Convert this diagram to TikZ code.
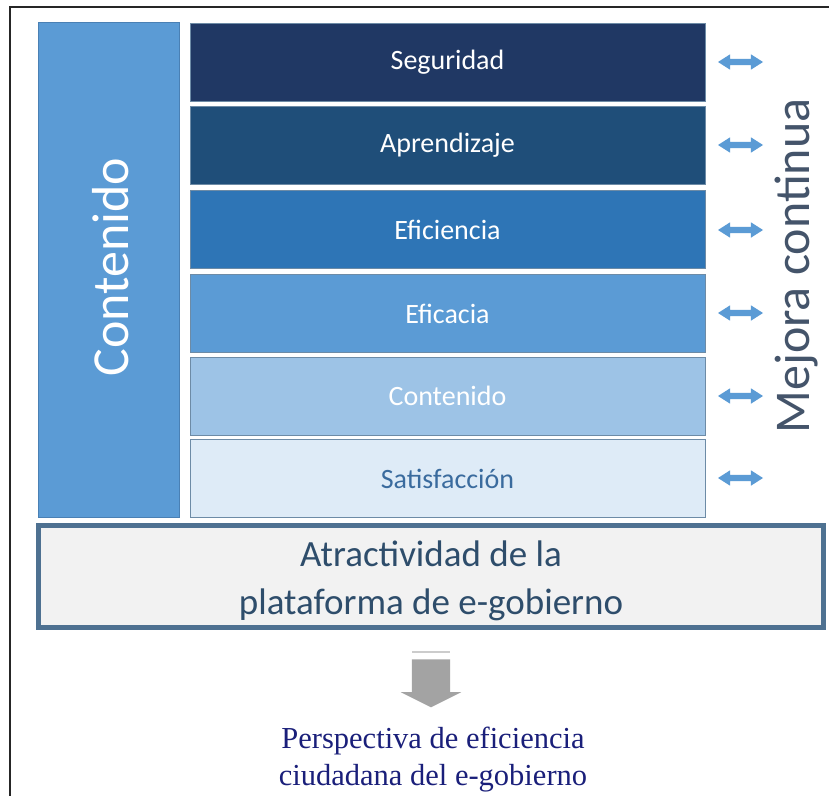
\documentclass[tikz,border=0pt]{standalone}
\usepackage{fontspec}
\setmainfont{Carlito}
\newfontfamily\timesfont{Liberation Serif}
\usetikzlibrary{shapes.arrows}
\definecolor{cSeg}{HTML}{203864}
\definecolor{cApr}{HTML}{1F4E79}
\definecolor{cEfi}{HTML}{2E75B6}
\definecolor{cEfa}{HTML}{5B9BD5}
\definecolor{cCon}{HTML}{9DC3E6}
\definecolor{cSat}{HTML}{DEEBF7}
\definecolor{cSatTxt}{HTML}{3A6B9E}
\definecolor{cBorder}{HTML}{6D8BA6}
\definecolor{cLeft}{HTML}{5B9BD5}
\definecolor{cLeftBd}{HTML}{4A80B4}
\definecolor{cBot}{HTML}{F2F2F2}
\definecolor{cBotBd}{HTML}{4E7191}
\definecolor{cBotTxt}{HTML}{2E4D6B}
\definecolor{cMej}{HTML}{44546A}
\definecolor{cArr}{HTML}{5B9BD5}
\definecolor{cGray}{HTML}{A3A3A3}
\definecolor{cNavy}{HTML}{1A1F7A}
\tikzset{
  layer/.style={draw=cBorder, line width=0.8pt, minimum width=515pt, minimum height=78pt, inner sep=0pt, text=white, font=\fontsize{28}{32}\selectfont},
  darr/.style={double arrow, fill=cArr, draw=none, inner sep=3pt, double arrow head extend=4.5pt, double arrow tip angle=65, minimum height=45pt, minimum width=15pt}
}
\begin{document}
\begin{tikzpicture}[x=1pt,y=-1pt]
\useasboundingbox (0,0) rectangle (829,796);
\fill[white] (0,0) rectangle (829,796);
% frame lines
\draw[line width=2pt, black!85] (829,7) -- (10,7) -- (10,796);
% left box
\node[draw=cLeftBd, line width=0.8pt, fill=cLeft, minimum width=141pt, minimum height=495pt, inner sep=0pt] (left) at (108.5,269.5) {};
\node[rotate=90, text=white, font=\fontsize{52}{56}\selectfont] (lefttxt) at (111,267) {Contenido};
% layers
\node[layer, fill=cSeg] (seg) at (447.5,62) {Seguridad};
\node[layer, fill=cApr] (apr) at (447.5,145.5) {Aprendizaje};
\node[layer, fill=cEfi] (efi) at (447.5,229.5) {Eficiencia};
\node[layer, fill=cEfa] (efa) at (447.5,313.5) {Eficacia};
\node[layer, fill=cCon] (con) at (447.5,396) {Contenido};
\node[layer, fill=cSat, text=cSatTxt] (sat) at (447.5,478.5) {Satisfacción};
% double arrows
\node[darr] (a1) at (740.5,62) {};
\node[darr] (a2) at (740.5,145) {};
\node[darr] (a3) at (740.5,230) {};
\node[darr] (a4) at (740.5,313) {};
\node[darr] (a5) at (740.5,396) {};
\node[darr] (a6) at (740.5,478) {};
% Mejora continua
\node[rotate=90, text=cMej, font=\fontsize{50}{54}\selectfont] (mej) at (796,266) {Mejora continua};
% bottom box
\node[draw=cBotBd, line width=5pt, fill=cBot, minimum width=785pt, minimum height=102pt, inner sep=0pt] (bot) at (431,576.5) {};
\node[text=cBotTxt, align=center, font=\fontsize{37}{48}\selectfont] (bottxt) at (431,581) {Atractividad de la\\plataforma de e-gobierno};
% gray arrow
\draw[gray!40, line width=1.2pt] (412,652) -- (450,652);
\node[single arrow, shape border rotate=270, fill=cGray, draw=none, inner sep=19pt, single arrow head extend=11pt, single arrow tip angle=127, minimum height=47pt, minimum width=60pt] (garr) at (431,678.5) {};
% result text
\node[text=cNavy, align=center, font=\timesfont\fontsize{30.5}{37}\selectfont] (res) at (433,760) {Perspectiva de eficiencia\\ciudadana del e-gobierno};
\end{tikzpicture}
\end{document}
